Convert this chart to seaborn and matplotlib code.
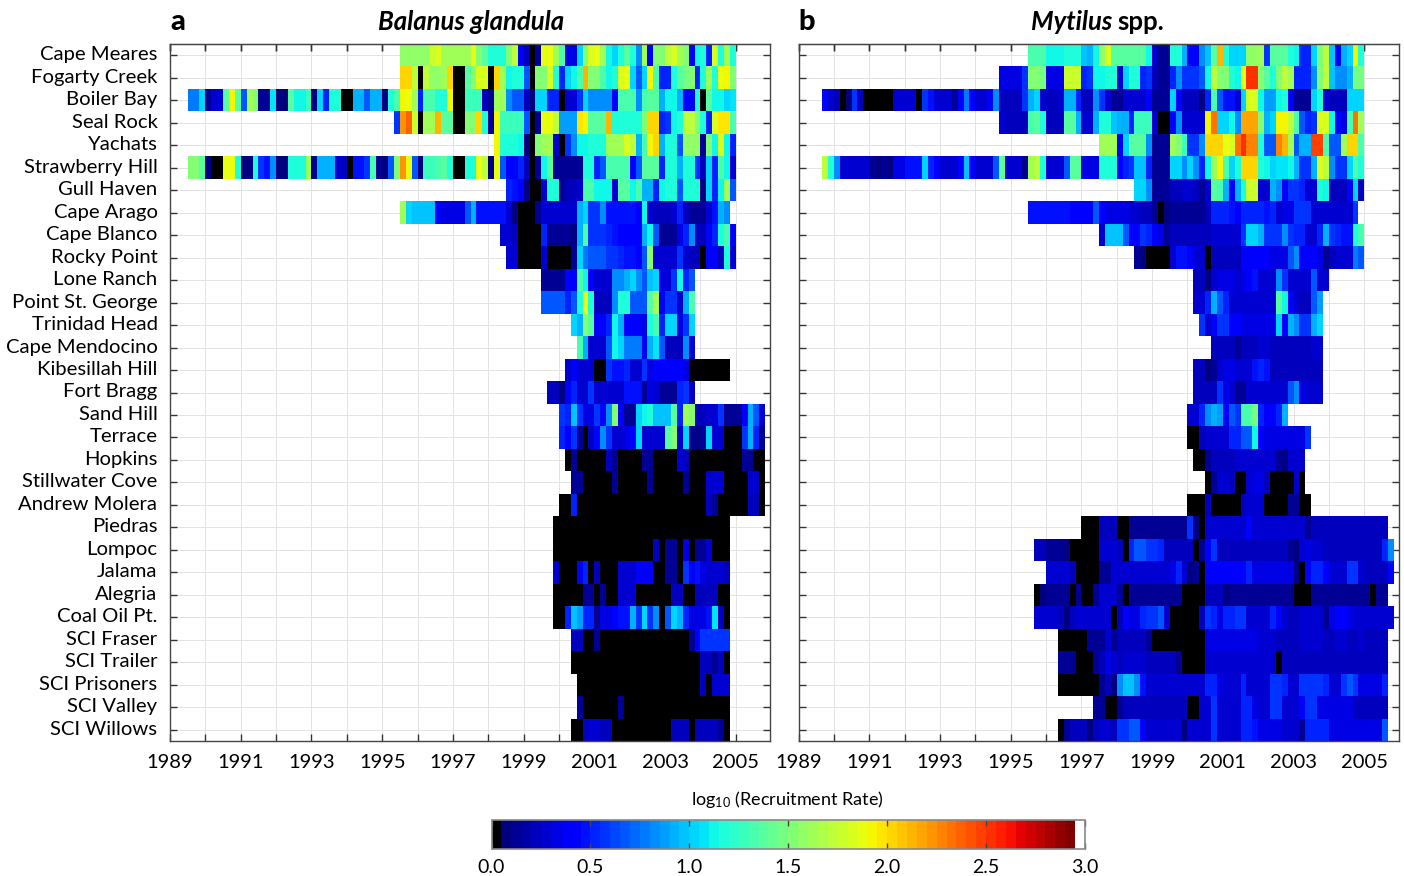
import numpy as np
import pandas as pd
import seaborn as sns
import matplotlib.pyplot as plt
from matplotlib.colors import ListedColormap
from matplotlib.transforms import ScaledTranslation

plt.rcParams['font.family'] = ['Lato', 'DejaVu Sans']
plt.rcParams['mathtext.default'] = 'regular'

sites = ['Cape Meares', 'Fogarty Creek', 'Boiler Bay', 'Seal Rock', 'Yachats', 'Strawberry Hill',
         'Gull Haven', 'Cape Arago', 'Cape Blanco', 'Rocky Point', 'Lone Ranch', 'Point St. George',
         'Trinidad Head', 'Cape Mendocino', 'Kibesillah Hill', 'Fort Bragg', 'Sand Hill', 'Terrace',
         'Hopkins', 'Stillwater Cove', 'Andrew Molera', 'Piedras', 'Lompoc', 'Jalama', 'Alegria',
         'Coal Oil Pt.', 'SCI Fraser', 'SCI Trailer', 'SCI Prisoners', 'SCI Valley', 'SCI Willows']

years = list(range(1989, 2006))
steps_per_year = 6
n_steps = 102

# first sample of each site, counted in steps since 1989
balanus_start = [39, 39, 3, 38, 55, 3, 57, 39, 56, 57, 63, 63, 68, 69, 67, 64, 66, 66, 67, 68, 66,
                 65, 65, 65, 65, 65, 68, 68, 69, 69, 68]
mytilus_start = [39, 34, 4, 34, 51, 4, 57, 39, 51, 57, 67, 67, 68, 70, 67, 67, 66, 66, 67, 69, 66,
                 48, 40, 42, 40, 40, 44, 44, 44, 50, 44]

balanus_rates = [
    [1.55, 1.55, 1.55, 1.55, 1.55, 1.75, 1.8, 1.65, 1.65, 1.65, 1.65, 1.6, 1.85, 1.5, 1.35, 1.2, 1.2, 1.2, 1.5, 1.7, 0.4,
     0.2, 0, 0.1, 1.85, 1.85, 1.65, 1.3, 0.35, 0.35, 1.0, 1.5, 1.8, 1.85, 1.65, 1.1, 1.0, 1.2, 1.35, 1.2, 0.8, 1.6, 0.4,
     1.5, 1.5, 1.7, 1.8, 1.6, 1.5, 0.4, 1.1, 1.2, 0.5, 1.8, 1.2, 1.6, 1.2],
    [2.0, 2.0, 1.7, 0, 1.7, 1.55, 1.55, 1.6, 2.0, 0, 0, 1.35, 1.5, 1.8, 1.8, 0, 2.05, 1.6, 1.1, 1.2, 1.2, 0.7, 0, 1.5,
     1.5, 1.8, 1.2, 0.5, 1.0, 1.1, 1.3, 2.1, 1.5, 1.5, 1.3, 1.1, 1.2, 1.8, 1.85, 1.0, 0.7, 1.0, 1.9, 1.3, 0.5, 0.5,
     1.2, 1.4, 1.45, 1.5, 0.5, 1.2, 1.6, 1.2, 1.85, 1.9, 1.5],
    [0.75, 0.75, 1.0, 0.1, 0.3, 0.3, 1.4, 1.9, 1.4, 0.7, 1.6, 1.5, 0.15, 0.15, 1.05, 0.05, 0.05, 1.4, 1.1, 1.1, 1.25,
     0.05, 1.0, 0.5, 1.2, 1.2, 0, 0, 0.9, 0.9, 0.7, 0.9, 0.9, 0.05, 1.2, 1.3, 1.9, 1.85, 1.6, 0.5, 1.3, 1.3, 1.2, 1.2,
     1.9, 0, 0, 1.25, 1.25, 1.25, 0.2, 0.1, 1.6, 1.6, 0.8, 0.7, 0.7, 0.2, 0.05, 1.0, 1.0, 0.5, 0.5, 0, 0.3, 0.3, 0.6,
     1.0, 0.8, 0.8, 0.8, 0.8, 0.4, 1.3, 1.3, 1.3, 0.8, 1.3, 1.4, 1.4, 0.9, 1.1, 1.1, 0.9, 0.4, 0.4, 1.2, 0, 1.4, 1.1,
     1.1, 1.0, 1.05],
    [0.6, 2.2, 2.35, 1.75, 0, 1.65, 1.65, 2.1, 1.4, 1.4, 0, 0, 1.5, 1.5, 2.05, 1.2, 0.1, 1.9, 1.25, 1.25, 1.25, 1.25,
     0.7, 0, 0.1, 1.85, 1.85, 1.7, 0.85, 0.85, 0.85, 1.95, 1.9, 1.4, 1.4, 1.4, 2.1, 1.15, 1.15, 1.15, 1.15, 1.2, 1.5,
     2.0, 2.0, 0.5, 0.6, 1.1, 1.2, 1.7, 1.7, 1.5, 1.2, 0.5, 1.8, 1.95, 1.95, 1.3],
    [1.9, 1.15, 1.15, 1.15, 1.1, 0.05, 0, 1.5, 1.6, 1.6, 0.3, 0, 0.6, 0.8, 1.1, 1.1, 1.2, 1.2, 1.2, 1.6, 1.6, 1.6, 1.8,
     1.7, 0.9, 1.3, 1.9, 2.0, 0.9, 1.2, 1.2, 0.7, 1.55, 1.55, 1.55, 0.1, 1.5, 1.1, 1.8, 1.1, 0.5],
    [1.5, 1.5, 1.35, 0.05, 0, 0, 1.85, 1.85, 1.2, 0.05, 0.05, 1.2, 0.6, 0.45, 0.8, 0.05, 0.05, 1.15, 1.2, 1.2, 1.6,
     0.1, 0.9, 0.9, 0.9, 0.3, 0.2, 0, 0.45, 0.45, 0.6, 1.3, 0.1, 0.05, 0.7, 1.5, 2.2, 1.85, 0.7, 0.05, 1.25, 1.25, 1.3,
     1.4, 1.2, 0, 0, 1.2, 1.2, 1.85, 1.7, 0.05, 1.85, 0.7, 0.4, 0.4, 0.5, 0.2, 0, 0.1, 1.1, 1.4, 0.1, 0.15, 0.15, 0.15,
     0.1, 1.15, 1.15, 0.5, 0.7, 1.3, 1.3, 1.3, 1.3, 0.4, 0.7, 1.4, 1.4, 1.4, 0.5, 1.2, 1.2, 0.9, 1.15, 1.15, 0.6, 0.2,
     1.0, 0.5, 1.3, 1.1, 0.3],
    [0.5, 0.45, 0.4, 0.05, 0, 0, 0.3, 1.2, 1.2, 0.1, 0.2, 0.2, 0.3, 1.3, 1.3, 1.1, 1.1, 1.1, 0.3, 1.4, 1.4, 1.1, 1.3,
     0.9, 0.9, 0.5, 1.1, 1.2, 1.2, 0.7, 1.15, 1.15, 1.15, 0.05, 1.0, 0.5, 1.1, 1.6, 0.7],
    [1.6, 1.0, 0.95, 0.95, 0.95, 0.95, 0.4, 0.35, 0.35, 0.35, 0.35, 0.7, 0.9, 0.45, 0.45, 0.45, 0.45, 0.45, 0.3, 0.05,
     0, 0, 0, 0.1, 0.25, 0.25, 0.25, 0.25, 0.3, 0.3, 0.9, 1.0, 0.55, 0.55, 0.8, 0.45, 0.45, 0.45, 0.45, 0.45, 0.4, 1.1,
     0.3, 0.2, 0.2, 0.2, 0.3, 0.5, 0.2, 0.15, 0.15, 0.15, 0.3, 0.45, 0.9, 0.8],
    [0.3, 0.3, 0.2, 0, 0, 0, 0, 0.5, 0.15, 0.15, 0.15, 0.15, 0.05, 0.9, 1.3, 0.55, 0.55, 0.55, 0.5, 0.45, 0.4, 0.4, 0.4,
     0.4, 0.9, 1.1, 0.7, 0.15, 0.15, 0.15, 0.35, 0.5, 0.8, 0.2, 0.2, 0.4, 0.5, 1.2, 1.3, 0.4],
    [0.3, 0.25, 0, 0, 0, 0, 0.3, 0, 0, 0, 0, 0.1, 1.0, 0.75, 0.7, 0.7, 0.65, 0.6, 0.55, 0.5, 0.45, 0.45, 0.4, 0.7, 1.5,
     0.3, 0.3, 0.3, 0.25, 0.6, 0.3, 0.2, 0.2, 0, 0.4, 0.4, 0.2, 1.2, 0.3],
    [0.15, 0.15, 0.15, 0.15, 0.4, 0.4, 1.3, 1.1, 0.4, 0.25, 0.25, 0.3, 0.8, 0.8, 0.9, 1.0, 0.8, 0.7, 0.95, 1.0, 0.35,
     0.3, 0.6, 1.1, 0.5, 0.7],
    [0.7, 0.7, 0.7, 0.7, 0.5, 0.7, 1.2, 1.85, 1.2, 0.2, 0.2, 0.2, 0.8, 1.2, 1.2, 0.7, 0.7, 0.7, 1.4, 1.6, 0.4, 0.6, 0.6,
     0.3, 0.9, 1.3],
    [1.0, 0.9, 1.5, 1.4, 0.4, 0.4, 0.5, 1.1, 0.9, 0.4, 0.4, 0.4, 0.35, 1.2, 1.3, 0.5, 1.0, 1.0, 0.35, 0.6, 1.0],
    [1.3, 0.9, 0.25, 0.25, 0.25, 0.7, 1.1, 1.0, 0.75, 0.75, 0.75, 0.4, 0.9, 1.05, 0.7, 0.2, 0.2, 0.2, 0.8, 0.3],
    [0.3, 0.4, 0.25, 0.25, 0.25, 0, 0, 0.6, 0.45, 0.45, 0.5, 0.3, 0.3, 0.6, 0.35, 0.4, 0.4, 0.4, 0.4, 0.4, 0.35, 0, 0,
     0, 0, 0, 0, 0],
    [0.2, 0.2, 0.05, 0.4, 0.5, 0.25, 0.3, 0.55, 0.25, 0.25, 0.3, 0.3, 0.3, 0.45, 0.45, 0.45, 0.1, 0.35, 0.3, 0.15, 0.15,
     0.15, 0.5, 0.6, 0.2],
    [0.6, 0.5, 0.95, 0.6, 0.35, 0.35, 0.6, 0.4, 0.8, 1.5, 0.4, 0.15, 0.15, 1.0, 1.1, 1.2, 0.95, 0.95, 0.95, 1.4, 0.5,
     1.6, 1.5, 0.2, 0.2, 0.3, 0.3, 0.6, 0.15, 0.15, 0.15, 0.4, 0.9, 0.7, 0.25],
    [0.5, 0.4, 0.6, 0.1, 0, 0.2, 0.4, 0.8, 0.6, 0.3, 0.3, 0.35, 0.4, 1.0, 0.25, 0.25, 0.25, 0.25, 1.4, 1.5, 0.3, 1.0,
     0.1, 0.05, 0.1, 1.0, 0.3, 0.3, 0, 0, 0, 0.6, 0.9, 0.5, 0.1],
    [0, 0.1, 0, 0, 0, 0, 0, 0.2, 0.1, 0, 0, 0, 0, 0.15, 0.15, 0, 0, 0, 0, 0.25, 0.2, 0, 0, 0, 0, 0, 0, 0, 0, 0, 0.1,
     0.15, 0, 0],
    [0.1, 0.15, 0, 0, 0, 0, 0, 0.15, 0, 0, 0, 0, 0, 0.15, 0, 0, 0, 0, 0, 0.15, 0, 0, 0, 0.3, 0.3, 0.3, 0, 0, 0, 0, 0.3,
     0.3, 0],
    [0, 0, 0.5, 0, 0, 0, 0, 0, 0, 0, 0, 0, 0, 0, 0, 0, 0, 0, 0, 0, 0, 0, 0, 0, 0, 0.2, 0.1, 0, 0, 0, 0, 0, 0.2, 0.2, 0],
    [0, 0, 0, 0, 0, 0, 0, 0, 0, 0, 0, 0, 0, 0, 0, 0, 0, 0, 0, 0, 0, 0, 0, 0, 0, 0, 0, 0, 0, 0],
    [0, 0, 0, 0, 0, 0, 0, 0, 0, 0, 0, 0, 0, 0, 0, 0, 0, 0.2, 0, 0.15, 0.15, 0, 0.35, 0, 0.15, 0.15, 0.25, 0, 0, 0],
    [0.25, 0, 0, 0, 0.4, 0.5, 0, 0.2, 0, 0, 0, 0.25, 0.25, 0.3, 0.4, 0.4, 0.4, 0, 0, 0.1, 0.15, 0, 0.55, 0.4, 0.45, 0.35,
     0.3, 0.3, 0.3, 0.2],
    [0, 0, 0, 0, 0, 0.15, 0.15, 0, 0.15, 0, 0, 0.25, 0.25, 0.25, 0, 0, 0, 0, 0, 0, 0.2, 0.2, 0, 0, 0.2, 0.2, 0.2, 0.2, 0,
     0],
    [0, 0, 0.5, 0.95, 0.85, 0.5, 0.5, 0.1, 0.35, 0.35, 0.4, 0.45, 0.45, 0.9, 0.6, 1.0, 0.6, 0.8, 0, 0.7, 1.0, 0.9, 0.5,
     0.35, 0.35, 0.35, 0.45, 1.05, 0.2, 0],
    [0.2, 0.2, 0, 0, 0.1, 0, 0, 0, 0, 0, 0, 0, 0, 0, 0, 0, 0, 0, 0, 0, 0.1, 0.4, 0.55, 0.55, 0.55, 0.55, 0.55],
    [0, 0, 0, 0, 0, 0, 0, 0, 0, 0, 0, 0, 0, 0, 0, 0, 0, 0, 0, 0, 0, 0, 0.2, 0.2, 0.15, 0.2, 0],
    [0, 0, 0, 0, 0, 0, 0, 0, 0, 0, 0, 0, 0, 0, 0, 0, 0, 0, 0, 0, 0, 0.2, 0, 0.25, 0.25, 0.25],
    [0.15, 0, 0, 0, 0, 0, 0, 0.15, 0, 0, 0, 0, 0, 0, 0, 0, 0, 0, 0, 0, 0, 0, 0, 0, 0, 0],
    [0, 0, 0.2, 0.25, 0.25, 0.2, 0.2, 0, 0, 0, 0, 0, 0, 0, 0, 0, 0, 0.2, 0.2, 0.2, 0, 0.2, 0.2, 0.2, 0.2, 0.15, 0],
]

mytilus_rates = [
    [1.3, 1.3, 1.3, 1.1, 1.1, 1.1, 1.15, 1.15, 1.15, 0.95, 0.9, 1.1, 1.55, 1.8, 1.4, 1.4, 1.4, 1.4, 1.4, 1.35, 1.1,
     0.3, 0.15, 0.15, 1.15, 1.15, 0.9, 0.4, 0.4, 0.8, 0.95, 1.4, 2.1, 1.2, 1.0, 1.0, 1.0, 1.55, 1.55, 1.6, 0.6, 1.35, 1.35,
     1.35, 1.2, 1.1, 0.5, 0.5, 1.0, 1.5, 1.7, 0.95, 0.4, 0.9, 1.0, 1.9, 1.2],
    [0.35, 0.35, 0.35, 0.35, 0.6, 1.5, 1.5, 1.45, 0.35, 0.35, 0.35, 1.75, 1.75, 1.75, 0.5, 0.6, 1.1, 1.1, 1.15, 1.2, 0.3,
     1.0, 1.2, 1.2, 0.5, 0.6, 0.2, 0.15, 0.15, 0.5, 0.8, 0.55, 0.55, 0.55, 0.7, 1.1, 1.7, 1.5, 1.5, 1.2, 1.1, 1.85, 2.5,
     2.5, 1.5, 1.4, 1.2, 1.5, 1.7, 1.6, 0.5, 0.5, 0.5, 0.8, 1.5, 1.7, 0.95, 0.8, 0.8, 0.9, 1.45, 1.45],
    [0.4, 0.3, 0.2, 0, 0.05, 0.55, 0.2, 0, 0, 0, 0, 0, 0.25, 0.25, 0.25, 0.25, 0, 0.6, 0.45, 0.3, 0.25, 0.25, 0.1, 0.4,
     0.75, 0.4, 0.3, 0.25, 0.4, 0.8, 0.2, 0.2, 0.2, 0.2, 0.55, 0.9, 1.0, 0.3, 0.2, 0.2, 0.25, 0.9, 0.9, 0.5, 0.2, 0.2,
     0.8, 0.6, 0.3, 0.15, 0.15, 0.25, 0.25, 0.25, 0.25, 0.4, 0.15, 0.15, 0.15, 1.0, 0.4, 0.2, 0.2, 0.2, 0.05, 0.5, 1.3,
     0.7, 0.45, 0.45, 0.3, 1.0, 1.8, 1.8, 1.1, 0.85, 0.85, 1.1, 1.2, 0.4, 0.15, 0.15, 0.15, 1.0, 1.15, 0.3, 0.2, 0.2,
     0.2, 1.0, 1.0, 1.0],
    [0.3, 0.2, 0.2, 0.2, 0.2, 1.3, 1.4, 1.2, 0.2, 0.2, 0.2, 1.4, 1.4, 0.9, 0.3, 0.25, 0.9, 1.2, 1.2, 0.95, 0.9, 0.9, 0.5,
     1.25, 1.25, 1.25, 0.3, 0, 0, 0.4, 0.8, 0.3, 0.3, 0.3, 0.3, 1.9, 2.3, 1.0, 1.0, 1.1, 0.8, 2.15, 2.15, 2.15, 1.5, 0.9,
     1.0, 1.9, 1.9, 1.7, 1.3, 0.7, 0.5, 0.6, 1.8, 1.8, 1.1, 0.4, 0.35, 1.3, 2.3, 1.6],
    [1.65, 1.65, 1.6, 0.4, 1.0, 1.35, 1.35, 1.35, 0.8, 0.15, 0.15, 0.15, 1.6, 1.5, 1.25, 0.6, 0.6, 0.8, 2.05, 2.05, 2.0,
     1.85, 1.8, 2.3, 2.5, 2.25, 2.25, 1.2, 0.7, 0.7, 2.25, 2.1, 1.6, 0.7, 0.9, 0.9, 2.45, 2.45, 1.3, 0.7, 0.7, 1.6, 2.0,
     2.0, 1.3],
    [1.7, 1.2, 0.8, 0.25, 0.25, 0.25, 0.25, 0.25, 0.1, 0.05, 0.15, 0.05, 0.35, 0.35, 0.45, 0.45, 0.45, 1.0, 0.5, 0.4, 0.25,
     0.25, 0.25, 0.4, 0.95, 0.4, 0.3, 0.3, 0.3, 0.7, 1.4, 0.25, 0.25, 0.25, 0.15, 1.6, 1.7, 1.2, 0.25, 0.25, 0.25, 0.7,
     1.4, 1.4, 0.35, 0.35, 0.35, 1.2, 1.2, 1.2, 0.4, 0.5, 0.6, 0.95, 0.95, 0.5, 0.15, 0.15, 0.15, 1.0, 1.0, 0.8, 1.0, 0.8,
     0.5, 1.1, 1.6, 1.9, 1.3, 1.0, 1.2, 2.0, 2.05, 2.05, 1.2, 1.1, 1.0, 1.05, 1.05, 1.1, 0.9, 0.55, 0.55, 0.9, 1.8, 1.7,
     0.8, 0.6, 0.6, 1.0, 1.3, 1.2],
    [1.0, 1.0, 0.8, 0.15, 0.15, 0.15, 0.2, 0.2, 0.25, 0.25, 0.2, 0.15, 0.3, 1.4, 1.3, 0.9, 0.4, 0.9, 1.2, 1.75, 1.75, 0.3,
     0.3, 0.9, 0.8, 0.4, 0.55, 0.55, 0.5, 0.3, 0.3, 1.2, 1.1, 0.2, 0.2, 0.2, 0.4, 1.0, 0.2],
    [0.45, 0.45, 0.45, 0.45, 0.45, 0.45, 0.45, 0.4, 0.4, 0.4, 0.4, 0.7, 0.4, 0.35, 0.35, 0.35, 0.35, 0.3, 0.3, 0.2, 0.2,
     0.1, 0, 0.05, 0.15, 0.15, 0.15, 0.15, 0.15, 0.15, 0.2, 0.5, 0.5, 0.5, 0.45, 0.4, 0.5, 0.5, 0.5, 0.5, 0.45, 0.5, 0.3,
     0.35, 0.35, 0.6, 0.6, 0.55, 0.3, 0.3, 0.3, 0.25, 0.25, 0.25, 0.25, 0.55],
    [0.3, 0.95, 0.95, 0.95, 0.7, 0.4, 0.4, 0.6, 0.5, 0.4, 0.35, 0.1, 0.2, 0.2, 0.2, 0.2, 0.2, 0.2, 0.2, 0.25, 0.25, 0.25,
     0.25, 0.3, 0.6, 1.0, 1.0, 0.9, 0.55, 0.55, 0.55, 0.8, 0.6, 0.5, 0.5, 0.3, 0.3, 0.5, 0.9, 0.55, 0.5, 0.45, 0.45, 1.2,
     1.3],
    [0.1, 0.05, 0, 0, 0, 0, 0.3, 0.45, 0.45, 0.4, 0.25, 0.25, 0, 0.2, 0.2, 0.2, 0.2, 0.2, 0.4, 0.4, 0.4, 0.4, 0.4, 0.35,
     0.35, 0.35, 0.7, 0.8, 0.4, 0.4, 0.4, 0.35, 0.15, 0.2, 0.25, 0.25, 0.3, 0.75, 0.7],
    [0.2, 0.2, 0.05, 0.3, 0.35, 0.35, 0.35, 0.25, 0.35, 0.4, 0.45, 0.3, 0.3, 0.3, 0.8, 0.6, 0.3, 0.3, 0.3, 0.3, 0.7, 0.3,
     0.3],
    [0.25, 0.25, 0.5, 0.9, 0.7, 0.5, 0.3, 0.25, 0.25, 0.25, 0.25, 0.25, 0.25, 0.25, 1.35, 1.1, 0.4, 0.25, 0.2, 0.2, 0.7,
     0.85],
    [0.6, 0.3, 0.4, 0.55, 0.55, 0.4, 0.4, 0.35, 0.35, 0.35, 0.35, 0.35, 0.35, 1.0, 0.4, 0.9, 0.8, 0.6, 0.6, 0.9, 1.0],
    [0.2, 0.2, 0.2, 0.2, 0.1, 0.2, 0.2, 0.2, 0.25, 0.25, 0.2, 0.2, 0.2, 0.2, 0.2, 0.2, 0.2, 0.25, 0.25],
    [0.2, 0.2, 0.05, 0.1, 0.3, 0.35, 0.35, 0.3, 0.3, 0.3, 0.45, 0.5, 0.45, 0.2, 0.2, 0.2, 0.2, 0.2, 0.2, 0.2, 0.2, 0.2],
    [0.2, 0.2, 0.2, 0.2, 0.6, 0.35, 0.25, 0.15, 0.15, 0.25, 0.3, 0.3, 0.3, 0.3, 0.25, 0.25, 0.7, 0.8, 0.35, 0.25, 0.25,
     0.25],
    [0.25, 0.25, 0.5, 0.8, 0.9, 0.85, 0.4, 0.7, 0.6, 1.3, 1.3, 1.45, 0.5, 0.4, 0.4, 0.5, 0.9],
    [0, 0, 0.2, 0.3, 0.3, 0.3, 0.3, 0.5, 0.5, 0.7, 0.7, 1.1, 0.4, 0.35, 0.35, 0.35, 0.35, 0.35, 0.35, 0.35, 0.55],
    [0, 0, 0.1, 0.2, 0.2, 0.2, 0.2, 0.3, 0.3, 0.3, 0.3, 0.3, 0.3, 0.25, 0.1, 0.05, 0.25, 0.25, 0.3],
    [0, 0.1, 0.25, 0.25, 0.2, 0, 0, 0.3, 0.35, 0.35, 0.2, 0, 0, 0, 0, 0.25, 0],
    [0, 0, 0, 0.2, 0, 0, 0, 0, 0, 0.2, 0.3, 0.3, 0.3, 0, 0, 0, 0, 0.1, 0.1, 0, 0],
    [0, 0, 0, 0.2, 0.2, 0.2, 0, 0, 0.1, 0.15, 0.15, 0.15, 0.15, 0.15, 0.15, 0.15, 0.15, 0.15, 0.6, 0.05, 0, 0.3, 0.3, 0.3,
     0.3, 0.3, 0.3, 0.3, 0.4, 0.3, 0.25, 0.25, 0.25, 0.25, 0.25, 0.25, 0.25, 0.25, 0.1, 0.2, 0.2, 0.2, 0.2, 0.2, 0.2, 0.2,
     0.2, 0.2, 0.2, 0.2, 0.2, 0.2],
    [0.2, 0.2, 0.15, 0.1, 0.1, 0.05, 0, 0, 0, 0, 0, 0.25, 0.25, 0.25, 0.2, 0, 0.5, 0.65, 0.65, 0.6, 0.55, 0.5, 0.2, 0.2,
     0.2, 0.2, 0.2, 0, 0.1, 0.4, 0.6, 0.2, 0.2, 0.2, 0.2, 0.2, 0.2, 0.2, 0.2, 0.2, 0.2, 0.2, 0.2, 0.15, 0.05, 0.3, 0.35,
     0.3, 0.25, 0.2, 0.2, 0.2, 0.2, 0.2, 0.2, 0.2, 0.2, 0.2, 0.2, 0.5, 0.8],
    [0.25, 0.25, 0.25, 0.25, 0.2, 0, 0, 0, 0, 0.1, 0.15, 0.3, 0.3, 0.3, 0.3, 0.3, 0.3, 0.3, 0.3, 0.3, 0.3, 0.35, 0.5, 0.3,
     0.05, 0.1, 0, 0.4, 0.4, 0.4, 0.4, 0.4, 0.4, 0.4, 0.5, 0.35, 0.35, 0.35, 0.35, 0.35, 0.35, 0.35, 0.05, 0, 0.4, 0.5, 0.5,
     0.4, 0.25, 0.25, 0.25, 0.55, 0.6, 0.25, 0.2, 0.2, 0.2, 0.2, 0.4],
    [0, 0.05, 0.15, 0.15, 0.15, 0.15, 0, 0.1, 0, 0, 0.1, 0.25, 0.25, 0.25, 0.1, 0, 0.15, 0.15, 0.15, 0.15, 0.15, 0.15, 0.15,
     0.15, 0.15, 0, 0, 0, 0, 0.2, 0.2, 0.2, 0.05, 0.15, 0.15, 0.15, 0.15, 0.15, 0.15, 0.1, 0.15, 0.15, 0.15, 0.1, 0, 0, 0,
     0.15, 0.15, 0.15, 0.1, 0.15, 0.15, 0.15, 0.15, 0.15, 0.1, 0, 0.1, 0.15],
    [0.25, 0.25, 0.25, 0.25, 0.2, 0.05, 0.2, 0.25, 0.25, 0.25, 0.25, 0.25, 0.25, 0, 0.2, 0.4, 0.35, 0.35, 0.5, 0.55, 0.6,
     0.65, 0.3, 0, 0, 0, 0, 0, 0.2, 0.6, 0.5, 0.35, 0.5, 0.5, 0.55, 0.55, 0.3, 0.3, 0.3, 0.3, 0.5, 0.4, 0.25, 0.2, 0.2, 0.3,
     0.3, 0.3, 0.3, 0.1, 0.35, 0.4, 0.4, 0.35, 0.3, 0.3, 0.3, 0.3, 0.3, 0.3, 0.3],
    [0, 0, 0, 0, 0, 0.1, 0.15, 0.1, 0.25, 0.1, 0.2, 0.2, 0.2, 0.2, 0.2, 0.15, 0, 0, 0, 0, 0, 0, 0, 0, 0, 0.35, 0.35, 0.35,
     0.35, 0.35, 0.35, 0.35, 0.35, 0.35, 0.25, 0.25, 0.25, 0.2, 0.2, 0.2, 0.2, 0.25, 0.3, 0.3, 0.25, 0.2, 0.2, 0.25, 0.25,
     0.2, 0.2, 0.25, 0.2, 0.2, 0.2, 0.2],
    [0.15, 0.15, 0.15, 0, 0, 0, 0.1, 0.2, 0.35, 0.3, 0.2, 0.25, 0.25, 0.25, 0.25, 0.2, 0.2, 0.2, 0.2, 0.2, 0.1, 0, 0, 0, 0,
     0.3, 0.3, 0.3, 0.3, 0.3, 0.3, 0.3, 0.3, 0.3, 0.3, 0.3, 0.3, 0, 0.2, 0.2, 0.2, 0.2, 0.2, 0.2, 0.2, 0.2, 0.2, 0.2, 0.2,
     0.2, 0.2, 0.2, 0.2, 0.2, 0.2, 0.2],
    [0, 0, 0, 0, 0, 0, 0, 0.15, 0.2, 0.05, 0.8, 0.95, 0.95, 0.8, 0.45, 0.25, 0.25, 0.25, 0.3, 0.3, 0.3, 0.3, 0.3, 0.3, 0.3,
     0.5, 0.5, 0.35, 0.3, 0.3, 0.3, 0.5, 0.3, 0.3, 0.3, 0.3, 0.55, 0.6, 0.5, 0.3, 0.3, 0.55, 0.6, 0.6, 0.55, 0.5, 0.3, 0.3,
     0.6, 0.65, 0.6, 0.35, 0.35, 0.35, 0.35, 0.5],
    [0.15, 0.1, 0, 0, 0.1, 0.2, 0.2, 0.2, 0.2, 0.2, 0.2, 0.2, 0.2, 0.2, 0.2, 0.2, 0, 0, 0.25, 0.25, 0.55, 0.25, 0.25, 0.25,
     0.25, 0.5, 0.5, 0.35, 0.3, 0.3, 0.55, 0.55, 0.3, 0.3, 0.3, 0.4, 0.6, 0.6, 0.35, 0.35, 0.35, 0.35, 0.35, 0.35, 0.2, 0.2,
     0.2, 0.2, 0.2, 0.2],
    [0, 0.15, 0.2, 0.2, 0.2, 0.05, 0.2, 0.25, 0.25, 0.2, 0.6, 0.6, 0.7, 0.7, 0.4, 0.3, 0.3, 0.3, 0.3, 0.3, 0.3, 0.05, 0.25,
     0.25, 0.25, 0.3, 0.55, 0.25, 0.25, 0.25, 0.25, 0.5, 0.5, 0.45, 0.35, 0.35, 0.35, 0.35, 0.3, 0.3, 0.3, 0.1, 0.5, 0.5, 0.5,
     0.5, 0.35, 0.35, 0.35, 0.35, 0.35, 0.35, 0.35, 0.35, 0.35, 0.7],
]

panel_titles = ['Balanus glandula', 'Mytilus']
cbar_ticks = [0.0, 0.5, 1.0, 1.5, 2.0, 2.5, 3.0]

# black floor, jet in the middle, white top, 60 steps like the original colorbar
colors = np.vstack([[0, 0, 0, 1], plt.get_cmap('jet', 58)(np.arange(58)), [1, 1, 1, 1]])
recruit_cmap = ListedColormap(colors)


def make_table(starts, rates):
    table = pd.DataFrame(np.nan, index=sites, columns=range(n_steps))
    for site, start, row in zip(sites, starts, rates):
        table.loc[site, start:start + len(row) - 1] = row
    return table


def draw_panel(ax, table, show_sites):
    sns.heatmap(table, ax=ax, cmap=recruit_cmap, vmin=0, vmax=3, cbar=False,
                xticklabels=False, yticklabels=False)
    ax.set_xlim(0, 101.8)
    ax.set_axisbelow(True)
    ax.grid(True, color='#e3e3e3', linewidth=0.7)
    ax.set_xlabel('')
    ax.set_ylabel('')

    xt = [(y - years[0]) * steps_per_year for y in years]
    ax.set_xticks(xt)
    ax.set_xticklabels([str(y) if (y - years[0]) % 2 == 0 else '' for y in years], fontsize=14.5)
    ax.set_yticks(np.arange(len(sites)) + 0.5)
    ax.set_yticklabels(sites if show_sites else [], fontsize=14.6, rotation=0)
    ax.tick_params(axis='both', direction='in', length=5, width=1, color='#333333',
                   top=True, right=True, left=True, bottom=True)
    ax.tick_params(axis='x', pad=9, rotation=0)
    ax.tick_params(axis='y', pad=9)
    for lab in ax.get_yticklabels():
        lab.set_transform(lab.get_transform() + ScaledTranslation(0, 2 / 100, fig.dpi_scale_trans))

    top = ax.secondary_xaxis('top')
    top.set_xticks(xt)
    top.tick_params(direction='in', length=5, width=1, color='#333333', labeltop=False)
    top.spines['top'].set_color('#444444')

    for s in ax.spines.values():
        s.set_visible(True)
        s.set_color('#444444')
        s.set_linewidth(1)


fig = plt.figure(figsize=(14.04, 8.76), dpi=100)
ax_a = fig.add_axes([170 / 1404, 135 / 876, 600 / 1404, 697 / 876])
ax_b = fig.add_axes([798.5 / 1404, 135 / 876, 600 / 1404, 697 / 876])

draw_panel(ax_a, make_table(balanus_start, balanus_rates), True)
draw_panel(ax_b, make_table(mytilus_start, mytilus_rates), False)

fig.text(170 / 1404, 1 - 22 / 876, 'a', fontsize=21, fontweight='black', va='center')
fig.text(798 / 1404, 1 - 22 / 876, 'b', fontsize=21, fontweight='black', va='center')
fig.text(471 / 1404, 1 - 22 / 876, panel_titles[0], fontsize=18.5, fontweight='bold', style='italic',
         ha='center', va='center')
fig.text(1112 / 1404, 1 - 22 / 876, panel_titles[1], fontsize=18.5, fontweight='bold', style='italic',
         ha='right', va='center')
fig.text(1117 / 1404, 1 - 22 / 876, 'spp.', fontsize=18.5, fontweight='bold', ha='left', va='center')

cax = fig.add_axes([491.5 / 1404, 1 - 849 / 876, 593.5 / 1404, 29 / 876])
cbar = fig.colorbar(ax_a.collections[0], cax=cax, orientation='horizontal')
cbar.set_ticks(cbar_ticks)
cbar.set_ticklabels([f'{t:.1f}' for t in cbar_ticks])
cax.tick_params(axis='x', direction='in', length=4, width=1, color='#444444', top=True,
                bottom=True, labelsize=14, pad=7)
cbar.outline.set_edgecolor('#888888')
cbar.outline.set_linewidth(1.2)
fig.text(787 / 1404, 1 - 799 / 876, 'log$_{10}$ (Recruitment Rate)', fontsize=13, ha='center', va='center')

fig.savefig('out.png', dpi=100)
